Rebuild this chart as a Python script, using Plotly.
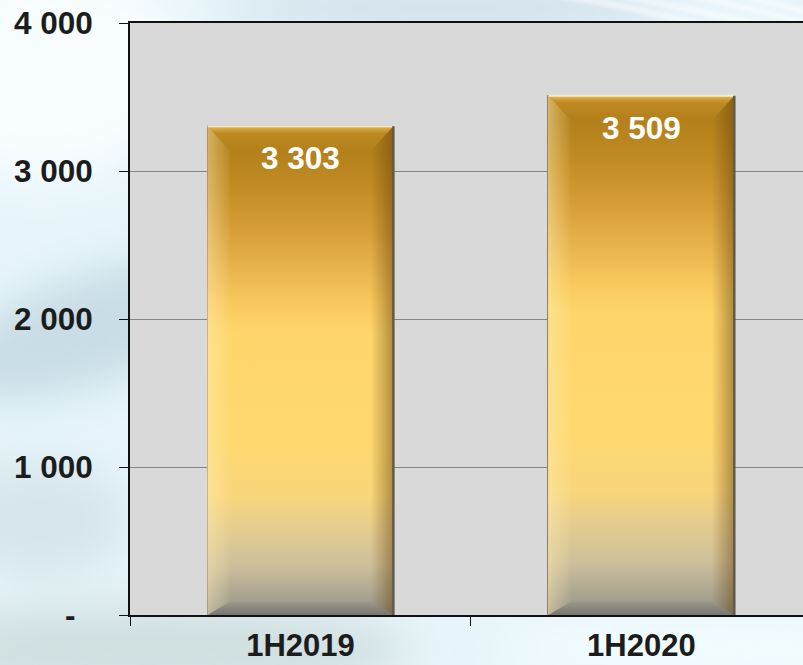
import base64
import plotly.graph_objects as go

# ---- data ----
categories = ["1H2019", "1H2020"]
values = [3303, 3509]
y_tickvals = [0, 1000, 2000, 3000, 4000]
y_ticktext = ["-\u00a0\u00a0", "1 000", "2 000", "3 000", "4 000"]
value_labels = [f"{v:,}".replace(",", " ") for v in values]

# ---- geometry / style constants ----
W, H = 803, 665
M_L, M_R, M_T, M_B = 130, 0, 23, 50
X_RANGE = [-0.5, 1.474]
Y_RANGE = [0, 4000]
BAR_W = 0.545
FONT = "Arial, 'Liberation Sans', sans-serif"

plot_w = W - M_L - M_R
plot_h = H - M_T - M_B
ux = (X_RANGE[1] - X_RANGE[0]) / plot_w   # data units per pixel (x)
uy = (Y_RANGE[1] - Y_RANGE[0]) / plot_h   # data units per pixel (y)

# soft blue backdrop with light swooshes, grey plotting panel on top
svg = f"""<svg xmlns='http://www.w3.org/2000/svg' width='{W}' height='{H}'>
<defs>
<filter id='b' x='-50%' y='-50%' width='200%' height='200%'><feGaussianBlur stdDeviation='22'/></filter>
<filter id='s' x='-20%' y='-20%' width='140%' height='140%'><feGaussianBlur stdDeviation='2.5'/></filter>
</defs>
<rect width='{W}' height='{H}' fill='#e7f5fa'/>
<ellipse cx='40' cy='70' rx='150' ry='110' fill='#f8fdff' filter='url(#b)'/>
<ellipse cx='90' cy='330' rx='150' ry='55' fill='#c8dde6' filter='url(#b)' transform='rotate(-18 90 330)'/>
<ellipse cx='40' cy='520' rx='90' ry='60' fill='#d6e6ea' filter='url(#b)'/>
<ellipse cx='150' cy='650' rx='260' ry='45' fill='#d0dfe0' filter='url(#b)'/>
<ellipse cx='720' cy='650' rx='220' ry='40' fill='#f1fcfe' filter='url(#b)'/>
<ellipse cx='450' cy='8' rx='230' ry='22' fill='#cfdde8' filter='url(#b)'/>
<g filter='url(#s)' stroke='#ffffff' stroke-opacity='0.85' fill='none' stroke-width='4'>
<path d='M560 -5 Q650 10 720 30'/>
<path d='M620 -5 Q700 12 790 30'/>
<path d='M690 -5 Q750 8 810 24'/>
<path d='M740 -5 Q780 5 815 15'/>
</g>
<rect x='{M_L}' y='{M_T}' width='{plot_w}' height='{plot_h}' fill='#d9d9d9'/>
</svg>"""
bg_uri = "data:image/svg+xml;base64," + base64.b64encode(svg.encode()).decode()

# vertical gold gradient of the bar body (0 = base, 1 = top)
body_scale = [
    [0.00, "#8d8b85"], [0.03, "#a4a08f"], [0.10, "#cdbf9b"], [0.18, "#e6cd8e"],
    [0.24, "#f8d67c"], [0.35, "#ffd870"], [0.58, "#fed66c"], [0.64, "#f8c85c"],
    [0.70, "#eab650"], [0.78, "#d9a03a"], [0.87, "#c38c24"], [0.95, "#b3801b"],
    [1.00, "#b3801b"],
]

fig = go.Figure()

fig.add_trace(go.Bar(
    x=categories, y=values, width=BAR_W,
    marker=dict(color="#fdd66c", line=dict(color="#8a8272", width=1)),
    hoverinfo="skip", showlegend=False,
))

bx = 22 * ux          # bevel width
by_top = 24 * uy      # top bevel height
by_bot = 13 * uy      # bottom bevel height

for i, v in enumerate(values):
    L, R = i - BAR_W / 2, i + BAR_W / 2
    common = dict(xaxis="x2", yaxis="y", mode="lines", line=dict(width=0),
                  fill="toself", hoverinfo="skip", showlegend=False)
    # body gradient
    fig.add_trace(go.Scatter(
        x=[L, R, R, L, L], y=[0, 0, v, v, 0],
        fillgradient=dict(type="vertical", colorscale=body_scale, start=0, stop=v),
        **common))
    # left bevel (light)
    fig.add_trace(go.Scatter(
        x=[L, L, L + bx, L + bx, L], y=[0, v, v - by_top, by_bot, 0],
        fillgradient=dict(type="horizontal", start=L, stop=L + bx,
                          colorscale=[[0, "rgba(255,238,180,0.45)"], [1, "rgba(255,238,180,0.05)"]]),
        **common))
    # right bevel (shadow)
    fig.add_trace(go.Scatter(
        x=[R, R, R - bx, R - bx, R], y=[0, v, v - by_top, by_bot, 0],
        fillgradient=dict(type="horizontal", start=R - bx, stop=R,
                          colorscale=[[0, "rgba(110,70,10,0.02)"], [1, "rgba(100,65,10,0.5)"]]),
        **common))
    # top bevel highlight
    fig.add_trace(go.Scatter(
        x=[L, R, R - bx, L + bx, L], y=[v, v, v - by_top, v - by_top, v],
        fillgradient=dict(type="vertical", start=v - by_top, stop=v,
                          colorscale=[[0, "rgba(240,190,80,0)"], [0.7, "rgba(240,190,80,0.15)"],
                                      [1, "rgba(245,200,90,0.8)"]]),
        **common))
    # bottom bevel (grey shade)
    fig.add_trace(go.Scatter(
        x=[L, R, R - bx, L + bx, L], y=[0, 0, by_bot, by_bot, 0],
        fillgradient=dict(type="vertical", start=0, stop=by_bot,
                          colorscale=[[0, "rgba(80,80,75,0.35)"], [1, "rgba(80,80,75,0.05)"]]),
        **common))
    # edge lines: pale top rim, dark right rim
    fig.add_trace(go.Scatter(x=[L, R], y=[v, v], xaxis="x2", yaxis="y", mode="lines",
                             line=dict(color="#f1ebdf", width=2), hoverinfo="skip", showlegend=False))
    fig.add_trace(go.Scatter(x=[R, R], y=[0, v], xaxis="x2", yaxis="y", mode="lines",
                             line=dict(color="#625a4a", width=2.5), hoverinfo="skip", showlegend=False))

# value labels inside the top of each bar
for c, v, t in zip(categories, values, value_labels):
    fig.add_annotation(x=c, y=v, xref="x", yref="y", text=f"<b>{t}</b>", showarrow=False,
                       yshift=-32, font=dict(family=FONT, size=31.5, color="white"))

fig.update_layout(
    width=W, height=H,
    margin=dict(l=M_L, r=M_R, t=M_T, b=M_B, pad=0),
    paper_bgcolor="#e7f5fa", plot_bgcolor="#d9d9d9",
    showlegend=False, bargap=0,
    images=[dict(source=bg_uri, xref="paper", yref="paper", x=-M_L / plot_w, y=1 + M_T / plot_h,
                 sizex=W / plot_w, sizey=H / plot_h, sizing="stretch", layer="below",
                 xanchor="left", yanchor="top")],
    xaxis=dict(
        type="category", range=X_RANGE, tickson="boundaries", automargin=False,
        ticks="outside", ticklen=9, tickcolor="#111", tickwidth=1.3,
        showline=True, linecolor="#111", linewidth=1.6, mirror=True,
        showgrid=False, zeroline=False, ticklabelstandoff=2,
        tickfont=dict(family=FONT, size=31, color="#1c1c1c", weight="bold"),
    ),
    xaxis2=dict(overlaying="x", range=X_RANGE, visible=False, fixedrange=True),
    yaxis=dict(
        range=Y_RANGE, tickvals=y_tickvals, ticktext=y_ticktext, automargin=False,
        ticks="outside", ticklen=9, tickcolor="#111", tickwidth=1.3,
        showline=True, linecolor="#111", linewidth=1.6,
        showgrid=True, gridcolor="#868686", gridwidth=1.2, zeroline=False,
        ticklabelstandoff=20,
        tickfont=dict(family=FONT, size=31.5, color="#1c1c1c", weight="bold"),
    ),
)

fig.write_html("out.html")
